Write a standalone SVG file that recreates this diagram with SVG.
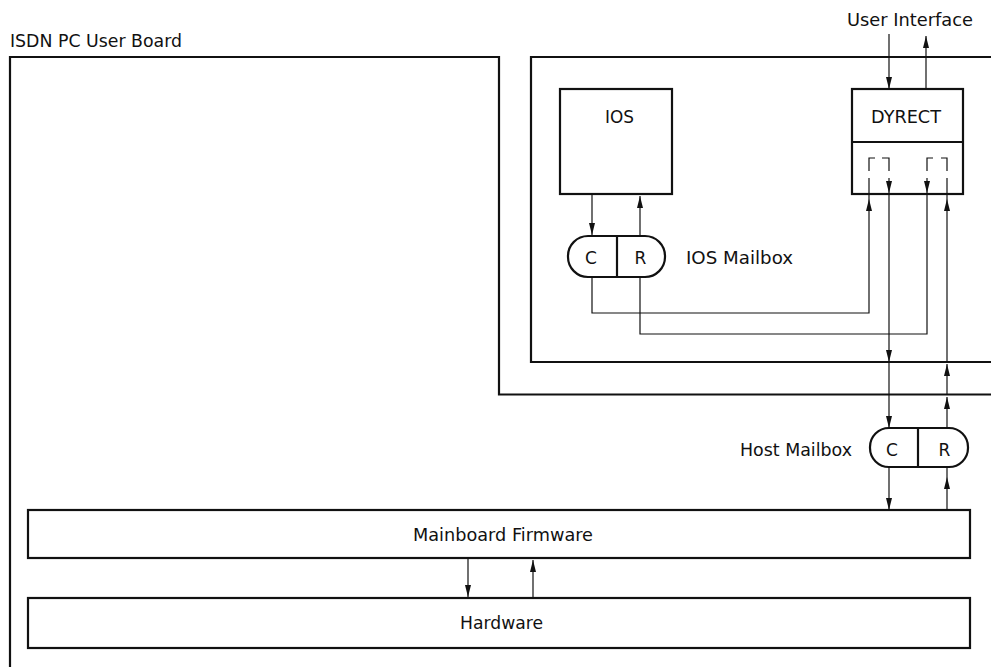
<svg xmlns="http://www.w3.org/2000/svg" width="991" height="667" viewBox="0 0 991 667">
<style>
  .bg { fill: #ffffff; }
  .thick { fill: none; stroke: #111; stroke-width: 2.2; stroke-linejoin: miter; }
  .box { fill: #ffffff; stroke: #111; stroke-width: 2.2; }
  .thin { fill: none; stroke: #111; stroke-width: 1.2; }
  .arr { fill: none; stroke: #111; stroke-width: 1.2; marker-end: url(#ah); }
  text { font-family: "DejaVu Sans", "Liberation Sans", sans-serif; font-size: 17px; fill: #111; }
  .c { text-anchor: middle; }
</style>
<defs>
  <marker id="ah" viewBox="0 0 12 6" refX="12" refY="3" markerWidth="12" markerHeight="6" orient="auto" markerUnits="userSpaceOnUse">
    <path d="M0,0 L12,3 L0,6 Z" fill="#111"/>
  </marker>
</defs>
<rect class="bg" x="0" y="0" width="991" height="667"/>

<g id="isdn-pc-user-board">
  <path class="thick" d="M10,667 V57 H499 V394.5 H991"/>
  <text x="10" y="47" textLength="172" lengthAdjust="spacingAndGlyphs">ISDN PC User Board</text>
</g>

<g id="host-region">
  <path class="thick" d="M991,57 H531 V362 H991"/>
</g>

<g id="ios">
  <rect class="box" x="560" y="89" width="112" height="105"/>
  <text x="605" y="123" textLength="29" lengthAdjust="spacingAndGlyphs">IOS</text>
</g>

<g id="dyrect">
  <rect class="box" x="852" y="89" width="111" height="105"/>
  <line class="thick" x1="852" y1="142" x2="963" y2="142"/>
  <text x="871" y="123" textLength="70" lengthAdjust="spacingAndGlyphs">DYRECT</text>
  <path class="thin" d="M869,171 V158 H875 M882,158 H889 V171"/>
  <path class="thin" d="M927,171 V158 H933 M941,158 H947 V171"/>
</g>

<g id="user-interface">
  <text x="847" y="26" textLength="126" lengthAdjust="spacingAndGlyphs">User Interface</text>
</g>

<g id="ios-mailbox">
  <rect class="box" x="568" y="236" width="97" height="41" rx="20" ry="20"/>
  <line class="thick" x1="617" y1="236" x2="617" y2="277"/>
  <text class="c" x="591" y="264">C</text>
  <text class="c" x="640.5" y="264">R</text>
  <text x="686" y="264" textLength="107" lengthAdjust="spacingAndGlyphs">IOS Mailbox</text>
</g>

<g id="host-mailbox">
  <rect class="box" x="870" y="428" width="98" height="39" rx="19" ry="19"/>
  <line class="thick" x1="918" y1="428" x2="918" y2="467"/>
  <text class="c" x="892" y="456">C</text>
  <text class="c" x="944.5" y="456">R</text>
  <text x="740" y="456" textLength="112" lengthAdjust="spacingAndGlyphs">Host Mailbox</text>
</g>

<g id="mainboard-firmware">
  <rect class="box" x="28" y="510" width="942" height="48"/>
  <text x="413" y="541" textLength="180" lengthAdjust="spacingAndGlyphs">Mainboard Firmware</text>
</g>

<g id="hardware">
  <rect class="box" x="28" y="598" width="942" height="50"/>
  <text x="460" y="629" textLength="83" lengthAdjust="spacingAndGlyphs">Hardware</text>
</g>

<g id="connectors">
  <!-- user interface -->
  <path class="arr" d="M889,34 V89"/>
  <path class="arr" d="M926,89 V36"/>
  <!-- IOS <-> IOS mailbox -->
  <path class="arr" d="M592,194 V235"/>
  <path class="arr" d="M640,236 V196"/>
  <!-- IOS mailbox C -> DYRECT -->
  <path class="arr" d="M592,277 V313 H869 V199"/>
  <path class="thin" d="M869,199 V194 M869,194 V178"/>
  <!-- DYRECT -> IOS mailbox R -->
  <path class="arr" d="M927,178 V193"/>
  <path class="thin" d="M927,193 V334 H640 V277"/>
  <!-- DYRECT -> Host mailbox C -->
  <path class="arr" d="M889,178 V193"/>
  <path class="arr" d="M889,193 V362"/>
  <path class="arr" d="M889,362 V428"/>
  <path class="arr" d="M889,467 V510"/>
  <!-- Host mailbox R -> DYRECT -->
  <path class="arr" d="M947,510 V477"/>
  <path class="thin" d="M947,477 V467"/>
  <path class="arr" d="M947,428 V397"/>
  <path class="arr" d="M947,395 V364"/>
  <path class="arr" d="M947,362 V199"/>
  <path class="thin" d="M947,199 V178"/>
  <!-- firmware <-> hardware -->
  <path class="arr" d="M468,558 V597"/>
  <path class="arr" d="M533,598 V560"/>
</g>
</svg>
